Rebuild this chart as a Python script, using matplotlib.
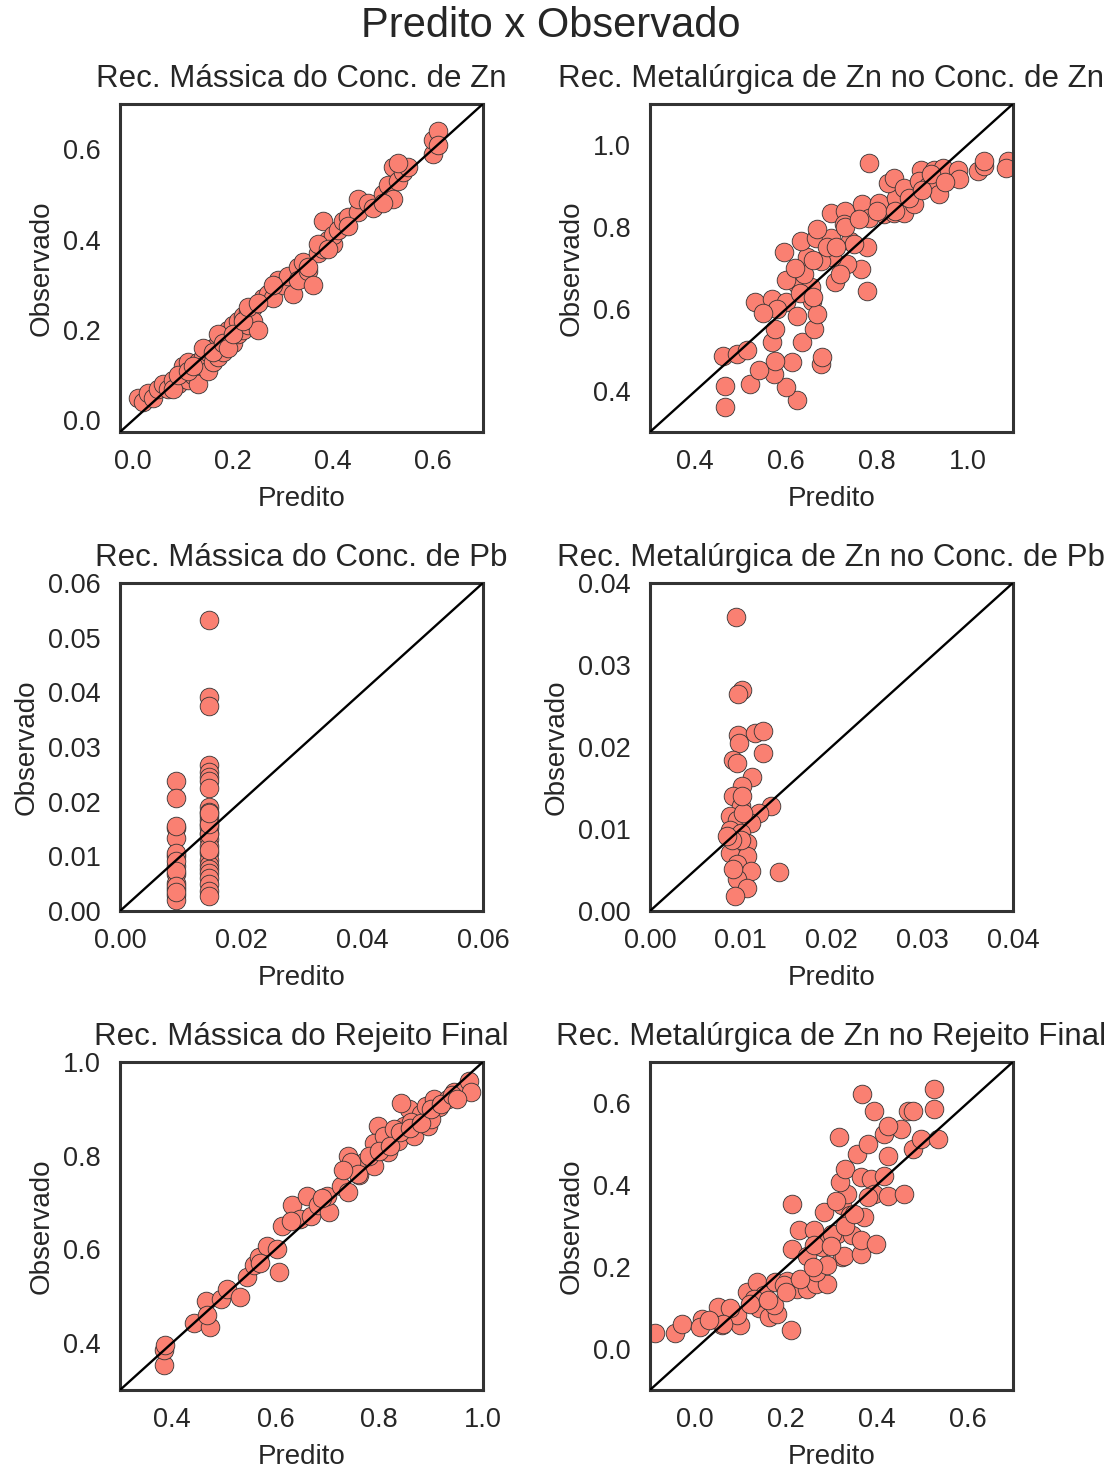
import numpy as np
import matplotlib
matplotlib.use("Agg")
import matplotlib.pyplot as plt

# ---------- Dados ----------
pred_massa_zn = [0.01, 0.02, 0.03, 0.04, 0.05, 0.06, 0.07, 0.08, 0.09, 0.10, 0.10, 0.11, 0.11, 0.12, 0.13,
                 0.13, 0.14, 0.14, 0.15, 0.15, 0.16, 0.16, 0.17, 0.17, 0.18, 0.18, 0.19, 0.19, 0.20, 0.20,
                 0.21, 0.21, 0.22, 0.22, 0.23, 0.23, 0.24, 0.24, 0.25, 0.26, 0.27, 0.28, 0.29, 0.30, 0.31,
                 0.32, 0.33, 0.33, 0.34, 0.35, 0.36, 0.37, 0.38, 0.38, 0.39, 0.40, 0.40, 0.41, 0.42, 0.43,
                 0.45, 0.45, 0.47, 0.48, 0.50, 0.51, 0.52, 0.52, 0.53, 0.54, 0.55, 0.60, 0.60, 0.61, 0.61,
                 0.08, 0.09, 0.11, 0.12, 0.14, 0.16, 0.17, 0.18, 0.19, 0.20, 0.22, 0.23, 0.25, 0.28, 0.35,
                 0.37, 0.39, 0.43, 0.50, 0.53]
obs_massa_zn = [0.05, 0.04, 0.06, 0.05, 0.07, 0.08, 0.07, 0.09, 0.08, 0.12, 0.10, 0.13, 0.09, 0.10, 0.08,
                0.13, 0.14, 0.12, 0.15, 0.11, 0.13, 0.16, 0.17, 0.14, 0.15, 0.19, 0.18, 0.20, 0.17, 0.21,
                0.19, 0.22, 0.23, 0.20, 0.21, 0.24, 0.25, 0.22, 0.20, 0.27, 0.28, 0.27, 0.31, 0.30, 0.32,
                0.28, 0.34, 0.31, 0.35, 0.33, 0.30, 0.37, 0.38, 0.44, 0.40, 0.39, 0.41, 0.42, 0.44, 0.45,
                0.46, 0.49, 0.48, 0.47, 0.50, 0.52, 0.56, 0.49, 0.53, 0.55, 0.56, 0.59, 0.62, 0.64, 0.61,
                0.07, 0.10, 0.11, 0.12, 0.16, 0.15, 0.19, 0.17, 0.16, 0.19, 0.22, 0.25, 0.26, 0.30, 0.34,
                0.39, 0.38, 0.43, 0.48, 0.57]

pred_metal_zn_conc_zn = [0.466, 0.466, 0.521, 0.624, 0.599, 0.573, 0.540, 0.613, 0.676, 0.680, 0.576, 0.569,
                         0.635, 0.661, 0.576, 0.462, 0.492, 0.514, 0.532, 0.569, 0.599, 0.624, 0.658, 0.669,
                         0.621, 0.624, 0.654, 0.709, 0.779, 0.765, 0.735, 0.702, 0.676, 0.647, 0.595, 0.632,
                         0.665, 0.698, 0.742, 0.779, 0.669, 0.698, 0.731, 0.728, 0.768, 0.782, 0.816, 0.805,
                         0.838, 0.860, 0.883, 0.842, 0.824, 0.838, 0.860, 0.782, 0.897, 0.894, 0.912, 0.931,
                         0.938, 0.927, 0.945, 0.978, 0.982, 1.023, 1.037, 1.037, 1.089, 1.085, 0.750, 0.691,
                         0.639, 0.720, 0.600, 0.620, 0.660, 0.710, 0.730, 0.760, 0.800, 0.840, 0.870, 0.900,
                         0.920, 0.950, 0.580, 0.630, 0.660, 0.550]
obs_metal_zn_conc_zn = [0.361, 0.411, 0.418, 0.377, 0.409, 0.442, 0.452, 0.470, 0.466, 0.482, 0.474, 0.519,
                        0.519, 0.551, 0.551, 0.486, 0.490, 0.499, 0.616, 0.624, 0.616, 0.584, 0.620, 0.588,
                        0.677, 0.661, 0.653, 0.665, 0.644, 0.697, 0.709, 0.726, 0.717, 0.726, 0.738, 0.766,
                        0.774, 0.774, 0.766, 0.750, 0.794, 0.835, 0.839, 0.807, 0.855, 0.823, 0.831, 0.859,
                        0.835, 0.835, 0.855, 0.871, 0.908, 0.920, 0.896, 0.957, 0.940, 0.912, 0.900, 0.900,
                        0.880, 0.940, 0.944, 0.940, 0.916, 0.936, 0.948, 0.960, 0.960, 0.944, 0.758, 0.750,
                        0.685, 0.685, 0.670, 0.700, 0.720, 0.750, 0.800, 0.820, 0.840, 0.840, 0.870, 0.890,
                        0.930, 0.910, 0.600, 0.640, 0.630, 0.590]

pred_massa_pb = [0.0092] * 17 + [0.0147] * 30
obs_massa_pb = [0.0237, 0.0207, 0.0152, 0.0134, 0.0100, 0.0082, 0.0067, 0.0052, 0.0040, 0.0030, 0.0021,
                0.0106, 0.0091, 0.0073, 0.0046, 0.0034, 0.0155,
                0.0532, 0.0392, 0.0375, 0.0267, 0.0255, 0.0246, 0.0237, 0.0225, 0.0191, 0.0182, 0.0173,
                0.0167, 0.0158, 0.0152, 0.0143, 0.0131, 0.0119, 0.0106, 0.0094, 0.0085, 0.0076, 0.0070,
                0.0061, 0.0049, 0.0036, 0.0027, 0.0140, 0.0112, 0.0160, 0.0180]

pred_metal_zn_conc_pb = [0.0095, 0.0101, 0.0097, 0.0097, 0.0098, 0.0116, 0.0125, 0.0125, 0.0092, 0.0096,
                         0.0112, 0.0101, 0.0092, 0.0100, 0.0133, 0.0120, 0.0088, 0.0096, 0.0111, 0.0088,
                         0.0100, 0.0107, 0.0094, 0.0088, 0.0107, 0.0096, 0.0111, 0.0142, 0.0096, 0.0107,
                         0.0094, 0.0100, 0.0090, 0.0103, 0.0085, 0.0092, 0.0101]
obs_metal_zn_conc_pb = [0.0359, 0.0270, 0.0264, 0.0215, 0.0205, 0.0217, 0.0219, 0.0193, 0.0184, 0.0180,
                        0.0164, 0.0153, 0.0140, 0.0128, 0.0128, 0.0120, 0.0116, 0.0111, 0.0107, 0.0099,
                        0.0095, 0.0083, 0.0077, 0.0071, 0.0067, 0.0057, 0.0049, 0.0047, 0.0039, 0.0028,
                        0.0018, 0.0087, 0.0087, 0.0120, 0.0091, 0.0051, 0.0140]

pred_massa_rej = [0.384, 0.384, 0.387, 0.442, 0.474, 0.465, 0.468, 0.494, 0.506, 0.532, 0.545, 0.558,
                  0.568, 0.584, 0.603, 0.606, 0.613, 0.632, 0.661, 0.648, 0.668, 0.681, 0.703, 0.700,
                  0.726, 0.739, 0.739, 0.752, 0.761, 0.771, 0.790, 0.797, 0.790, 0.810, 0.816, 0.836,
                  0.848, 0.858, 0.868, 0.881, 0.890, 0.894, 0.906, 0.916, 0.932, 0.945, 0.965, 0.974,
                  0.977, 0.842, 0.745, 0.829, 0.900, 0.861, 0.780, 0.800, 0.820, 0.840, 0.860, 0.880,
                  0.900, 0.920, 0.940, 0.950, 0.760, 0.730, 0.690, 0.630, 0.570]
obs_massa_rej = [0.353, 0.385, 0.396, 0.442, 0.435, 0.491, 0.460, 0.495, 0.516, 0.499, 0.541, 0.566,
                 0.584, 0.608, 0.601, 0.552, 0.651, 0.694, 0.715, 0.665, 0.672, 0.694, 0.680, 0.715,
                 0.736, 0.722, 0.800, 0.779, 0.758, 0.786, 0.779, 0.864, 0.828, 0.842, 0.807, 0.832,
                 0.864, 0.899, 0.842, 0.888, 0.906, 0.864, 0.921, 0.903, 0.921, 0.935, 0.938, 0.960,
                 0.935, 0.913, 0.786, 0.857, 0.878, 0.871, 0.800, 0.810, 0.820, 0.850, 0.860, 0.870,
                 0.900, 0.910, 0.930, 0.920, 0.760, 0.770, 0.710, 0.660, 0.570]

pred_metal_zn_rej = [-0.089, -0.045, -0.030, 0.014, 0.011, 0.051, 0.059, 0.099, 0.092, 0.114, 0.136, 0.151,
                     0.140, 0.162, 0.180, 0.176, 0.210, 0.202, 0.224, 0.247, 0.265, 0.291, 0.265, 0.213,
                     0.228, 0.247, 0.261, 0.283, 0.280, 0.295, 0.313, 0.324, 0.328, 0.346, 0.365, 0.365,
                     0.372, 0.398, 0.213, 0.324, 0.335, 0.320, 0.331, 0.365, 0.387, 0.394, 0.424, 0.460,
                     0.416, 0.357, 0.380, 0.317, 0.416, 0.424, 0.453, 0.424, 0.479, 0.497, 0.534, 0.394,
                     0.468, 0.479, 0.527, 0.527, 0.368, 0.302, 0.261, 0.129, 0.077, 0.173, 0.195, 0.342,
                     0.291, 0.120, 0.160, 0.200, 0.230, 0.260, 0.300, 0.330, 0.350, 0.310, 0.380, 0.060,
                     0.030]
obs_metal_zn_rej = [0.038, 0.038, 0.062, 0.074, 0.054, 0.103, 0.058, 0.058, 0.082, 0.139, 0.163, 0.131,
                    0.099, 0.078, 0.086, 0.163, 0.046, 0.167, 0.147, 0.147, 0.159, 0.159, 0.188, 0.244,
                    0.289, 0.228, 0.289, 0.334, 0.249, 0.265, 0.281, 0.224, 0.228, 0.277, 0.232, 0.265,
                    0.322, 0.257, 0.354, 0.350, 0.378, 0.407, 0.439, 0.419, 0.415, 0.378, 0.374, 0.378,
                    0.423, 0.476, 0.500, 0.516, 0.524, 0.471, 0.536, 0.544, 0.488, 0.512, 0.512, 0.581,
                    0.581, 0.581, 0.585, 0.634, 0.621, 0.281, 0.253, 0.123, 0.099, 0.107, 0.155, 0.326,
                    0.204, 0.110, 0.120, 0.140, 0.170, 0.200, 0.250, 0.300, 0.330, 0.360, 0.370, 0.060,
                    0.070]

titulos = ["Rec. Mássica do Conc. de Zn", "Rec. Metalúrgica de Zn no Conc. de Zn",
           "Rec. Mássica do Conc. de Pb", "Rec. Metalúrgica de Zn no Conc. de Pb",
           "Rec. Mássica do Rejeito Final", "Rec. Metalúrgica de Zn no Rejeito Final"]

preditos = [pred_massa_zn, pred_metal_zn_conc_zn, pred_massa_pb,
            pred_metal_zn_conc_pb, pred_massa_rej, pred_metal_zn_rej]
observados = [obs_massa_zn, obs_metal_zn_conc_zn, obs_massa_pb,
              obs_metal_zn_conc_pb, obs_massa_rej, obs_metal_zn_rej]

limites = [(-0.026, 0.70), (0.30, 1.10), (0.0, 0.06), (0.0, 0.04), (0.30, 1.0), (-0.10, 0.70)]
ticks_x = [[0.0, 0.2, 0.4, 0.6], [0.4, 0.6, 0.8, 1.0], [0.00, 0.02, 0.04, 0.06],
           [0.00, 0.01, 0.02, 0.03, 0.04], [0.4, 0.6, 0.8, 1.0], [0.0, 0.2, 0.4, 0.6]]
ticks_y = [[0.0, 0.2, 0.4, 0.6], [0.4, 0.6, 0.8, 1.0], [0.00, 0.01, 0.02, 0.03, 0.04, 0.05, 0.06],
           [0.00, 0.01, 0.02, 0.03, 0.04], [0.4, 0.6, 0.8, 1.0], [0.0, 0.2, 0.4, 0.6]]

# ---------- Estilo ----------
texto = "#262626"
plt.rcParams["font.family"] = ["Liberation Sans", "DejaVu Sans"]
plt.rcParams["text.color"] = texto
plt.rcParams["axes.labelcolor"] = texto
plt.rcParams["xtick.color"] = texto
plt.rcParams["ytick.color"] = texto

fig, axes = plt.subplots(3, 2, figsize=(11.18, 14.70), dpi=100)
fig.subplots_adjust(left=0.1073, right=0.906, top=0.9293, bottom=0.0544, wspace=0.46, hspace=0.46)

for ax, pred, obs, titulo, lim, tx, ty in zip(axes.flat, preditos, observados, titulos,
                                              limites, ticks_x, ticks_y):
    ax.scatter(pred, obs, s=180, color="salmon", edgecolor="#333333", linewidth=0.6, zorder=2)
    ax.plot(lim, lim, color="black", linewidth=1.7, zorder=3)
    ax.set_xlim(lim)
    ax.set_ylim(lim)
    ax.set_xticks(tx)
    ax.set_yticks(ty)
    ax.set_title(titulo, fontsize=22.5, pad=12.5)
    ax.set_xlabel("Predito", fontsize=20, labelpad=8)
    ax.set_ylabel("Observado", fontsize=20, labelpad=6)
    ax.tick_params(axis="x", length=0, pad=12, labelsize=19.5)
    ax.tick_params(axis="y", length=0, pad=14, labelsize=19.5)
    for sp in ax.spines.values():
        sp.set_color("#333333")
        sp.set_linewidth(2.2)

fig.suptitle("Predito x Observado", fontsize=30, x=0.493, y=0.982, va="center")

plt.savefig("out.png", dpi=100)
